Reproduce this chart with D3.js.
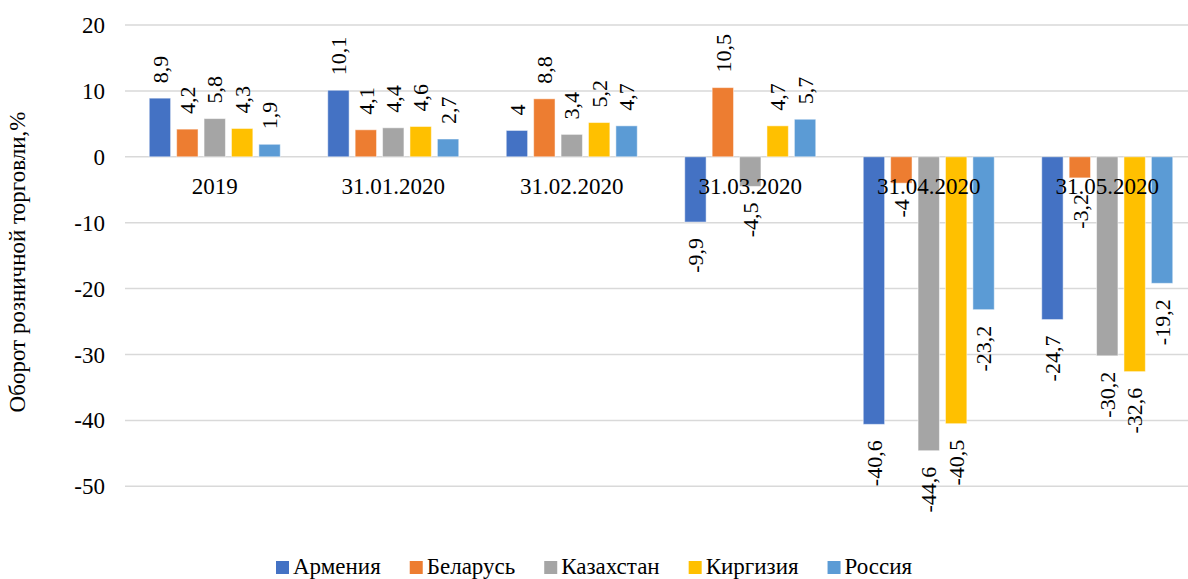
<!DOCTYPE html>
<html>
<head>
<meta charset="utf-8">
<script src="https://cdn.jsdelivr.net/npm/d3@7"></script>
<style>
  html, body { margin: 0; padding: 0; background: #fff; }
</style>
</head>
<body>
<svg id="chart" width="1188" height="579"></svg>
<script>
// Retail trade turnover, % change
const categories = ["2019", "31.01.2020", "31.02.2020", "31.03.2020", "31.04.2020", "31.05.2020"];
const seriesNames = ["Армения", "Беларусь", "Казахстан", "Киргизия", "Россия"];
const armenia    = [8.9, 10.1, 4, -9.9, -40.6, -24.7];
const belarus    = [4.2, 4.1, 8.8, 10.5, -4, -3.2];
const kazakhstan = [5.8, 4.4, 3.4, -4.5, -44.6, -30.2];
const kyrgyzstan = [4.3, 4.6, 5.2, 4.7, -40.5, -32.6];
const russia     = [1.9, 2.7, 4.7, 5.7, -23.2, -19.2];
const yTicks = [20, 10, 0, -10, -20, -30, -40, -50];
const colors = ["#4472C4", "#ED7D31", "#A5A5A5", "#FFC000", "#5B9BD5"];
const axisTitle = "Оборот розничной торговли,%";

const seriesValues = [armenia, belarus, kazakhstan, kyrgyzstan, russia];
const FONT = '"Liberation Serif"';

const svg = d3.select("#chart");
const W = 1188, H = 579;
const plot = { left: 125.5, right: 1196.5, top: 25, bottom: 486.3 };

const y = d3.scaleLinear().domain([-50, 20]).range([plot.bottom, plot.top]);
const x0 = d3.scaleBand().domain(categories).range([plot.left, plot.right]).padding(0);
const groupPad = x0.bandwidth() * 0.133;
const x1 = d3.scaleBand().domain(seriesNames)
  .range([groupPad, x0.bandwidth() - groupPad])
  .paddingInner(0.22).paddingOuter(0);

const fmt = v => String(v).replace(".", ",");

// gridlines
svg.append("g").selectAll("line").data(yTicks).join("line")
  .attr("x1", 125).attr("x2", W)
  .attr("y1", d => y(d)).attr("y2", d => y(d))
  .attr("stroke", "#d9d9d9").attr("stroke-width", 1.5);

// y tick labels
svg.append("g").selectAll("text").data(yTicks).join("text")
  .attr("x", 105).attr("y", d => y(d)).attr("dy", "0.35em")
  .attr("text-anchor", "end").style("font-family", FONT).attr("font-size", 23).attr("fill", "#000")
  .text(d => d);

// axis title
svg.append("text")
  .attr("transform", "translate(25,262) rotate(-90)")
  .attr("text-anchor", "middle").style("font-family", FONT).attr("font-size", 23).attr("fill", "#000")
  .text(axisTitle);

// bars
const rows = [];
categories.forEach((c, i) => {
  seriesNames.forEach((s, j) => rows.push({ cat: c, series: s, idx: j, value: seriesValues[j][i] }));
});

svg.append("g").selectAll("rect").data(rows).join("rect")
  .attr("x", d => x0(d.cat) + x1(d.series))
  .attr("width", x1.bandwidth())
  .attr("y", d => y(Math.max(0, d.value)))
  .attr("height", d => Math.abs(y(d.value) - y(0)))
  .attr("fill", d => colors[d.idx])
  .attr("stroke", "#fff").attr("stroke-opacity", 0.5).attr("stroke-width", 1);

// category labels below zero line
svg.append("g").selectAll("text").data(categories).join("text")
  .attr("x", d => x0(d) + x0.bandwidth() / 2)
  .attr("y", 194)
  .attr("text-anchor", "middle").style("font-family", FONT).attr("font-size", 23).attr("fill", "#000")
  .text(d => d);

// data labels (rotated)
svg.append("g").selectAll("text").data(rows).join("text")
  .attr("transform", d => {
    const cx = x0(d.cat) + x1(d.series) + x1.bandwidth() / 2;
    const cy = d.value >= 0 ? y(d.value) - 15 : y(d.value) + 16;
    return `translate(${cx},${cy}) rotate(-90)`;
  })
  .attr("dy", "0.35em")
  .attr("text-anchor", d => d.value >= 0 ? "start" : "end")
  .style("font-family", FONT).attr("font-size", 22).attr("fill", "#000")
  .text(d => fmt(d.value));

// legend
const legend = svg.append("g");
let lx = 276;
seriesNames.forEach((s, j) => {
  legend.append("rect").attr("x", lx).attr("y", 561).attr("width", 13).attr("height", 13)
    .attr("fill", colors[j]);
  const t = legend.append("text").attr("x", lx + 17).attr("y", 574)
    .style("font-family", FONT).attr("font-size", 23).attr("fill", "#000").text(s);
  lx += 17 + t.node().getComputedTextLength() + 29;
});
</script>
</body>
</html>
